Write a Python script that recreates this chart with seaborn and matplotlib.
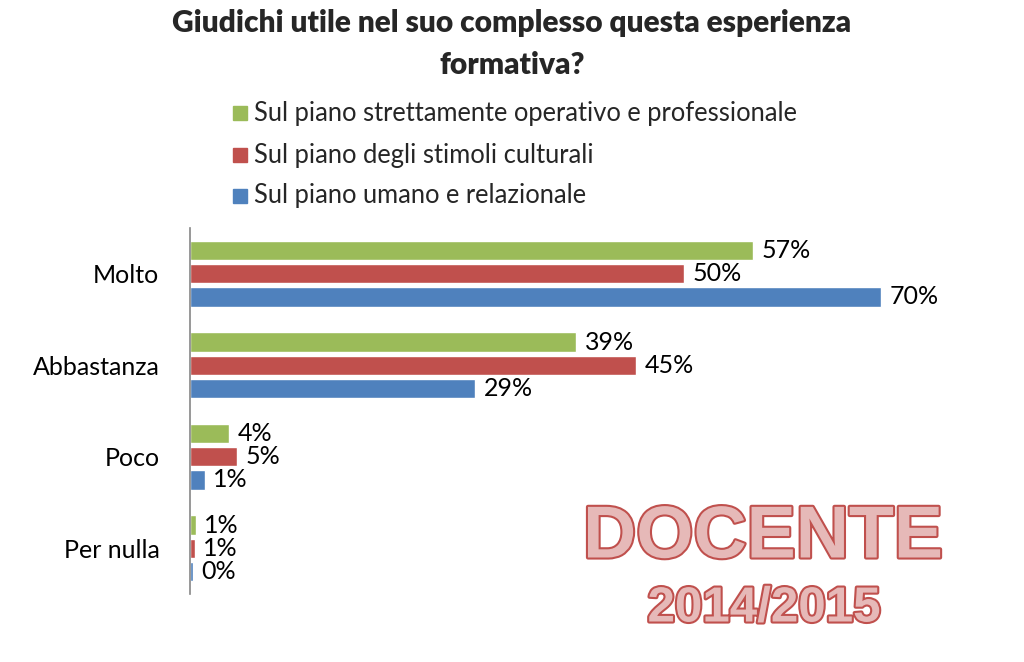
import matplotlib
matplotlib.use("Agg")
import matplotlib.pyplot as plt
import matplotlib.patheffects as pe
import seaborn as sns
import pandas as pd

categories = ["Molto", "Abbastanza", "Poco", "Per nulla"]
series = ["Sul piano strettamente operativo e professionale",
          "Sul piano degli stimoli culturali",
          "Sul piano umano e relazionale"]
vals_operativo = [57.0, 39.1, 3.95, 0.6]
vals_culturali = [50.0, 45.2, 4.8, 0.5]
vals_umano = [70.0, 28.9, 1.5, 0.3]
labels_operativo = ["57%", "39%", "4%", "1%"]
labels_culturali = ["50%", "45%", "5%", "1%"]
labels_umano = ["70%", "29%", "1%", "0%"]
colors = ["#9BBB59", "#C0504D", "#4F81BD"]

rows = []
for s, vals in zip(series, [vals_operativo, vals_culturali, vals_umano]):
    for c, v in zip(categories, vals):
        rows.append({"cat": c, "serie": s, "val": v})
df = pd.DataFrame(rows)

sns.set_theme(style="white")
plt.rcParams["font.family"] = ["Lato", "DejaVu Sans"]

fig = plt.figure(figsize=(10.24, 6.62), dpi=100)
ax = fig.add_axes([190/1024, 1 - 594/662, 810/1024, 366/662])

sns.barplot(data=df, y="cat", x="val", hue="serie", order=categories,
            hue_order=series, palette=colors, orient="h", width=0.76,
            gap=0.17, ax=ax, legend=False, saturation=1)

ax.set_xlim(0, 82)
ax.set_ylim(3.5, -0.5)
ax.set_xlabel("")
ax.set_ylabel("")
ax.set_xticks([])
for side in ["top", "right", "bottom"]:
    ax.spines[side].set_visible(False)
ax.spines["left"].set_color("#868686")
ax.spines["left"].set_linewidth(1.2)
ax.tick_params(axis="y", length=0, pad=22, labelsize=18)
for lbl in ax.get_yticklabels():
    lbl.set_color("black")

for cont, labs in zip(ax.containers, [labels_operativo, labels_culturali, labels_umano]):
    ax.bar_label(cont, labels=labs, padding=6, fontsize=18, color="black")

# title
fig.text(0.5, 1 - 23/662, "Giudichi utile nel suo complesso questa esperienza",
         ha="center", va="center", fontsize=21.5, fontweight="heavy")
fig.text(0.5, 1 - 65/662, "formativa?", ha="center", va="center",
         fontsize=21.5, fontweight="heavy")

# legend
leg_y = [113, 155, 196]
for s, col, y in zip(series, colors, leg_y):
    fig.patches.append(plt.Rectangle((233/1024, 1 - (y + 7)/662), 14/1024, 14/662,
                                     transform=fig.transFigure, color=col))
    fig.text(254/1024, 1 - y/662, s, ha="left", va="center", fontsize=18.4)

# watermark
fx = ["Liberation Sans", "DejaVu Sans"]
t1 = fig.text(763/1024, 1 - 538/662, "DOCENTE", ha="center", va="center",
              fontsize=53, fontweight="bold", family=fx, color="#E6B9B8")
t1.set_path_effects([pe.withStroke(linewidth=3, foreground="#C0504D")])
t2 = fig.text(764/1024, 1 - 609/662, "2014/2015", ha="center", va="center",
              fontsize=35.5, fontweight="bold", family=fx, color="#E6B9B8")
t2.set_path_effects([pe.withStroke(linewidth=3, foreground="#C0504D")])

fig.savefig("out.png", dpi=100)
